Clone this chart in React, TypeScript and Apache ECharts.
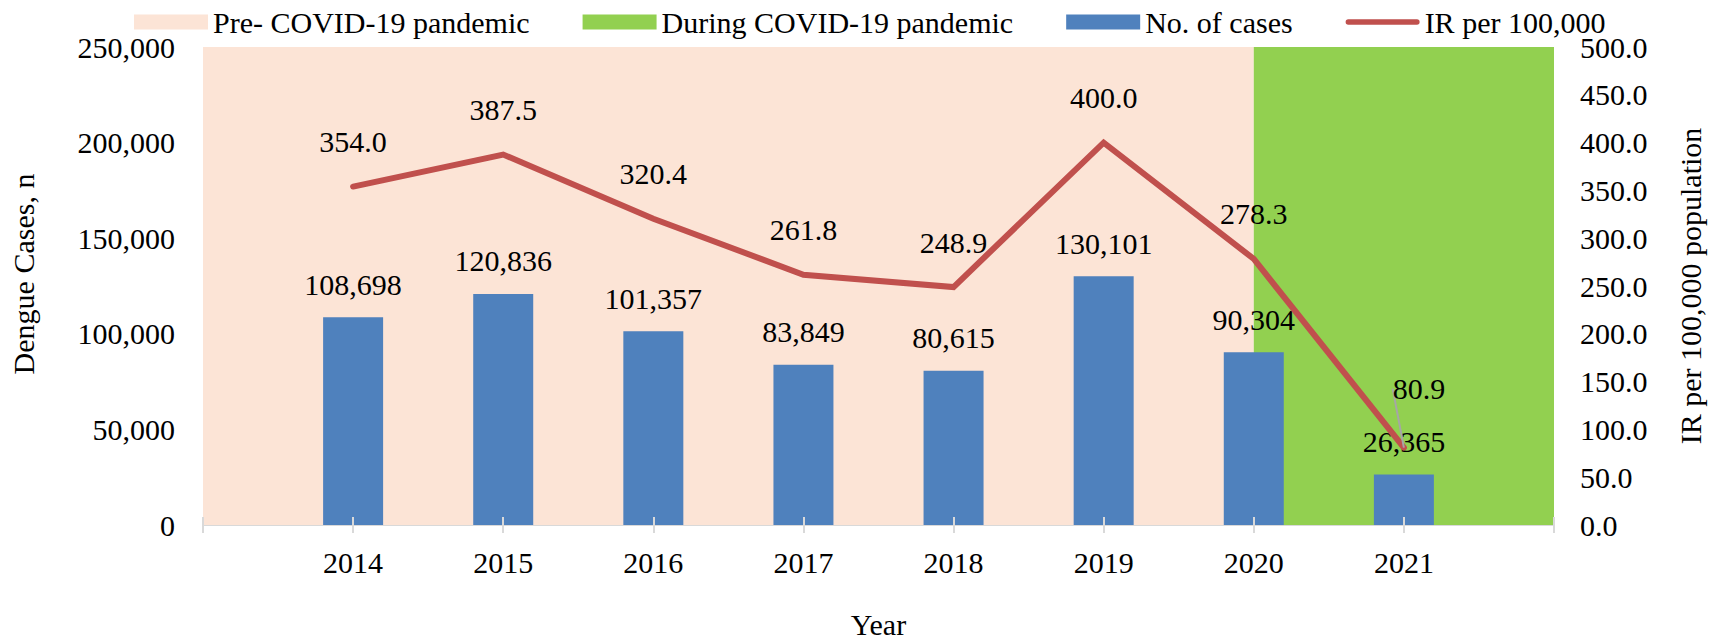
import { useEffect, useRef } from "react";
import * as echarts from "echarts";

const years = [2014, 2015, 2016, 2017, 2018, 2019, 2020, 2021];
const cases = [108698, 120836, 101357, 83849, 80615, 130101, 90304, 26365];
const incidence = [354.0, 387.5, 320.4, 261.8, 248.9, 400.0, 278.3, 80.9];
const casesAxis = { min: 0, max: 250000, interval: 50000 };
const irAxis = { min: 0, max: 500, interval: 50 };
const xRange = { min: 2013, max: 2022 };
const prePeriod = [2013, 2020];
const duringPeriod = [2020, 2022];
const names = {
  pre: "Pre- COVID-19 pandemic",
  during: "During COVID-19 pandemic",
  cases: "No. of cases",
  ir: "IR per 100,000",
};

const FONT = '"Liberation Serif", "Times New Roman", serif';
const PINK = "#FCE4D6";
const GREEN = "#92D050";
const BLUE = "#4F81BD";
const RED = "#C0504D";
const LINE_ICON = "path://M3,0L79,0A3,3,0,0,1,79,6L3,6A3,3,0,0,1,3,0Z";

export default function App() {
  const ref = useRef<HTMLDivElement>(null);
  useEffect(() => {
    if (!ref.current) return;
    const chart = echarts.init(ref.current, undefined, { renderer: "svg" });
    const fmtInt = (v: number) => Math.round(v).toLocaleString("en-US");
    const band = (name: string, period: number[], color: string) => ({
      name,
      type: "line",
      xAxisIndex: 0,
      yAxisIndex: 0,
      data: period.map((x) => [x, casesAxis.max]),
      symbol: "none",
      silent: true,
      z: 1,
      itemStyle: { color },
      lineStyle: { width: 0, color },
      areaStyle: { color, opacity: 1 },
    });
    chart.setOption({
      animation: false,
      textStyle: { fontFamily: FONT, color: "#000" },
      legend: {
        left: 129,
        top: 2,
        itemWidth: 74,
        itemHeight: 15,
        itemGap: 53,
        textStyle: { fontFamily: FONT, fontSize: 30, color: "#000" },
        data: [
          { name: names.pre, icon: "rect" },
          { name: names.during, icon: "rect" },
          { name: names.cases, icon: "rect" },
          { name: names.ir, icon: LINE_ICON },
        ],
      },
      grid: { left: 193, right: 147, top: 47, bottom: 102, containLabel: false },
      xAxis: [
        {
          type: "value",
          min: xRange.min,
          max: xRange.max,
          interval: 1,
          name: "Year",
          nameLocation: "middle",
          nameGap: 84,
          nameTextStyle: { fontFamily: FONT, fontSize: 30, color: "#000" },
          axisLine: { show: true, lineStyle: { color: "#D9D9D9", width: 2 } },
          axisTick: { show: true, length: 8, lineStyle: { color: "#D9D9D9", width: 2 } },
          splitLine: { show: false },
          axisLabel: {
            fontFamily: FONT,
            fontSize: 30,
            color: "#000",
            margin: 22,
            formatter: (v: number) => (years.includes(v) ? String(v) : ""),
          },
        },
        {
          type: "value",
          min: xRange.min,
          max: xRange.max,
          interval: 1,
          position: "bottom",
          z: 10,
          axisLine: { show: false },
          axisTick: { show: true, inside: true, length: 8, lineStyle: { color: "#D9D9D9", width: 2 } },
          axisLabel: { show: false },
          splitLine: { show: false },
        },
      ],
      yAxis: [
        {
          type: "value",
          min: casesAxis.min,
          max: casesAxis.max,
          interval: casesAxis.interval,
          name: "Dengue Cases, n",
          nameLocation: "middle",
          nameGap: 165,
          nameRotate: 90,
          nameTextStyle: { fontFamily: FONT, fontSize: 30, color: "#000", padding: [0, 0, 0, 24] },
          axisLine: { show: false },
          axisTick: { show: false },
          splitLine: { show: false },
          axisLabel: { fontFamily: FONT, fontSize: 30, color: "#000", margin: 28, formatter: fmtInt },
        },
        {
          type: "value",
          min: irAxis.min,
          max: irAxis.max,
          interval: irAxis.interval,
          position: "right",
          name: "IR per 100,000 population",
          nameLocation: "middle",
          nameGap: 121,
          nameRotate: 90,
          nameTextStyle: { fontFamily: FONT, fontSize: 30, color: "#000" },
          axisLine: { show: false },
          axisTick: { show: false },
          splitLine: { show: false },
          axisLabel: {
            fontFamily: FONT,
            fontSize: 30,
            color: "#000",
            margin: 26,
            formatter: (v: number) => v.toFixed(1),
          },
        },
      ],
      series: [
        band(names.pre, prePeriod, PINK),
        band(names.during, duringPeriod, GREEN),
        {
          name: names.cases,
          type: "bar",
          xAxisIndex: 0,
          yAxisIndex: 0,
          barWidth: 60,
          z: 2,
          itemStyle: { color: BLUE },
          data: years.map((y, i) => [y, cases[i]]),
          label: {
            show: true,
            position: "top",
            distance: 18,
            fontFamily: FONT,
            fontSize: 30,
            color: "#000",
            formatter: (p: any) => fmtInt(p.value[1]),
          },
        },
        {
          name: names.ir,
          type: "line",
          xAxisIndex: 0,
          yAxisIndex: 1,
          z: 3,
          symbol: "circle",
          symbolSize: 0,
          showSymbol: true,
          itemStyle: { color: RED },
          lineStyle: { color: RED, width: 6, cap: "round", join: "miter" },
          data: years.map((y, i) => {
            const item: any = { value: [y, incidence[i]] };
            if (i === years.length - 1) {
              item.labelLine = { show: true, lineStyle: { color: "#A6A6A6", width: 2 } };
            }
            return item;
          }),
          label: {
            show: true,
            position: "top",
            distance: 30,
            fontFamily: FONT,
            fontSize: 30,
            color: "#000",
            formatter: (p: any) => Number(p.value[1]).toFixed(1),
          },
          labelLine: { show: false },
          labelLayout: (p: any) => (p.dataIndex === years.length - 1 ? { dx: 15, dy: -14 } : {}),
        },
      ],
    });
    return () => chart.dispose();
  }, []);
  return (
    <div
      ref={ref}
      style={{ position: "fixed", left: 0, top: 0, width: 1713, height: 644, background: "#fff" }}
    />
  );
}
